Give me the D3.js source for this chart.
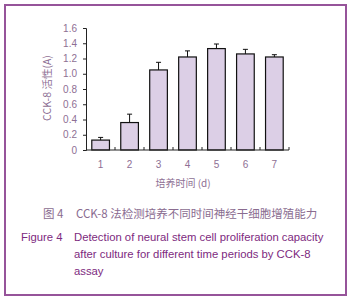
<!DOCTYPE html>
<html lang="zh">
<head>
<meta charset="UTF-8">
<title>CCK-8</title>
<script src="https://d3js.org/d3.v7.min.js"></script>
<style>
  body { margin: 0; background: #fff; }
  svg { display: block; }
</style>
</head>
<body>
<svg id="chart" width="353" height="300"></svg>
<script>
// data
var days = ["1", "2", "3", "4", "5", "6", "7"];
var means = [0.13, 0.36, 1.05, 1.22, 1.33, 1.26, 1.22];
var errors = [0.035, 0.11, 0.10, 0.08, 0.06, 0.06, 0.03];
var yTicks = [0, 0.2, 0.4, 0.6, 0.8, 1.0, 1.2, 1.4, 1.6];

var svg = d3.select("#chart");
var fontCn = "'Noto Sans CJK SC', 'DejaVu Sans', sans-serif";
var fontEn = "'Liberation Sans', Arial, sans-serif";
var labelColor = "#8e6f94";

// outer frame
svg.append("rect")
   .attr("x", 5).attr("y", 5)
   .attr("width", 341).attr("height", 290)
   .attr("fill", "none")
   .attr("stroke", "#96549a")
   .attr("stroke-width", 2);

var plotL = 86, plotR = 289, plotT = 28, plotB = 150;

var x = d3.scaleBand().domain(days).range([plotL, plotR]).paddingInner(0.39).paddingOuter(0.2);
var y = d3.scaleLinear().domain([0, 1.6]).range([plotB, plotT]);

// bars
svg.selectAll("rect.bar")
   .data(means)
   .enter().append("rect")
   .attr("class", "bar")
   .attr("x", (d, i) => x(days[i]))
   .attr("y", d => y(d))
   .attr("width", x.bandwidth())
   .attr("height", d => plotB - y(d))
   .attr("fill", "#dccfe6")
   .attr("stroke", "#111")
   .attr("stroke-width", 1.2);

// error bars (upper only)
var err = svg.selectAll("g.err").data(means).enter().append("g").attr("class", "err");
err.append("line")
   .attr("x1", (d, i) => x(days[i]) + x.bandwidth() / 2)
   .attr("x2", (d, i) => x(days[i]) + x.bandwidth() / 2)
   .attr("y1", d => y(d))
   .attr("y2", (d, i) => y(d + errors[i]))
   .attr("stroke", "#111").attr("stroke-width", 1);
err.append("line")
   .attr("x1", (d, i) => x(days[i]) + x.bandwidth() / 2 - 2.5)
   .attr("x2", (d, i) => x(days[i]) + x.bandwidth() / 2 + 2.5)
   .attr("y1", (d, i) => y(d + errors[i]))
   .attr("y2", (d, i) => y(d + errors[i]))
   .attr("stroke", "#111").attr("stroke-width", 1);

// y axis
var yAxis = svg.append("g")
   .attr("transform", "translate(" + plotL + ",0)")
   .call(d3.axisLeft(y).tickValues(yTicks).tickSize(3).tickPadding(6)
         .tickFormat(d => d === 0 ? "0" : d3.format(".1f")(d)));
yAxis.select(".domain").attr("stroke", "#222");
yAxis.selectAll(".tick line").attr("stroke", "#222");
yAxis.selectAll("text").attr("fill", labelColor).style("font-family", fontEn).style("font-size", "10px");

// x axis: ticks at category boundaries
var xAxis = svg.append("g")
   .attr("transform", "translate(0," + plotB + ")");
xAxis.append("line")
   .attr("x1", plotL).attr("x2", plotR)
   .attr("stroke", "#222").attr("stroke-width", 1.2);
var step = (plotR - plotL) / days.length;
xAxis.selectAll("line.tk")
   .data(d3.range(1, days.length + 1))
   .enter().append("line")
   .attr("class", "tk")
   .attr("x1", d => plotL + d * step).attr("x2", d => plotL + d * step)
   .attr("y1", 0).attr("y2", -3)
   .attr("stroke", "#222");
xAxis.selectAll("text")
   .data(days)
   .enter().append("text")
   .attr("x", d => x(d) + x.bandwidth() / 2)
   .attr("y", 18)
   .attr("text-anchor", "middle")
   .attr("fill", labelColor)
   .style("font-family", fontEn).style("font-size", "10px")
   .text(d => d);

// axis titles
svg.append("text")
   .attr("transform", "translate(51,88) rotate(-90)")
   .attr("text-anchor", "middle")
   .attr("fill", labelColor)
   .style("font-family", fontCn).style("font-size", "10.5px")
   .text("CCK-8 活性(A)");

svg.append("text")
   .attr("x", 183).attr("y", 187)
   .attr("text-anchor", "middle")
   .attr("fill", labelColor)
   .style("font-family", fontCn).style("font-size", "10px")
   .text("培养时间 (d)");

// captions
svg.append("text")
   .attr("x", 43).attr("y", 218)
   .attr("fill", "#8a6c90")
   .style("font-family", fontCn).style("font-size", "11.5px")
   .text("图 4");
svg.append("text")
   .attr("x", 76).attr("y", 218)
   .attr("fill", "#8a6c90")
   .style("font-family", fontCn).style("font-size", "11.5px")
   .text("CCK-8 法检测培养不同时间神经干细胞增殖能力");

var capColor = "#7d2a80";
svg.append("text")
   .attr("x", 21).attr("y", 241)
   .attr("fill", capColor)
   .style("font-family", fontEn).style("font-size", "11.3px")
   .text("Figure 4");
var capLines = ["Detection of neural stem cell proliferation capacity",
                "after culture for different time periods by CCK-8",
                "assay"];
svg.selectAll("text.cap")
   .data(capLines)
   .enter().append("text")
   .attr("class", "cap")
   .attr("x", 74)
   .attr("y", (d, i) => 241 + i * 17)
   .attr("fill", capColor)
   .style("font-family", fontEn).style("font-size", "11.3px")
   .text(d => d);
</script>
</body>
</html>
